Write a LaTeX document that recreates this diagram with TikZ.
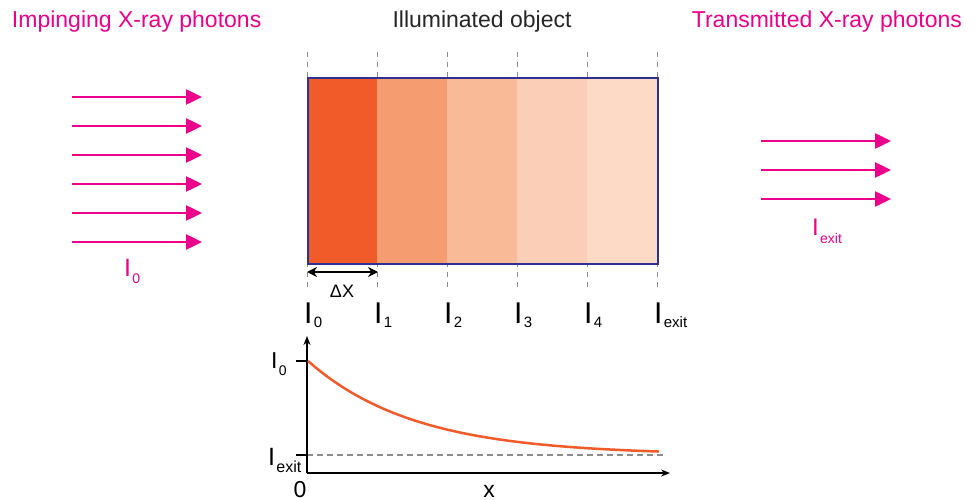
\documentclass[tikz,border=0pt]{standalone}
\usepackage{fontspec}
\setmainfont{Liberation Sans}
\usetikzlibrary{arrows.meta}
\definecolor{mag}{HTML}{EC008C}
\definecolor{orng}{HTML}{F15A29}
\definecolor{segA}{HTML}{F15A29}
\definecolor{segB}{HTML}{F69C71}
\definecolor{segC}{HTML}{F9BA98}
\definecolor{segD}{HTML}{FBCFB7}
\definecolor{segE}{HTML}{FCDAC6}
\definecolor{navy}{HTML}{2E3192}
\definecolor{dgray}{HTML}{8C8C8C}
\newcommand{\fs}[1]{\fontsize{#1}{#1}\selectfont}
% I with subscript: #1 big size, #2 small size, #3 drop, #4 subscript
\newcommand{\Isb}[4]{\fs{#1}I\kern1.5pt\raisebox{-#3pt}{\fs{#2}#4}}
\begin{document}
\begin{tikzpicture}[x=1pt,y=-1pt,
  lbl/.style={inner sep=0pt, outer sep=0pt},
  ray/.style={draw=mag, line width=2.5pt, -{Triangle[length=16pt,width=15pt]}},
  guide/.style={draw=dgray, line width=0.8pt, dash pattern=on 5pt off 5pt},
  axis/.style={draw=black, line width=1.8pt, -{Stealth[length=9pt,width=7pt]}}]
\useasboundingbox (0,0) rectangle (975,500);

% titles
\node[lbl, anchor=base west, text=mag] (t1) at (12,28) {\fs{23}Impinging X-ray photons};
\node[lbl, anchor=base, text=black!85] (t2) at (482,28) {\fs{23}Illuminated object};
\node[lbl, anchor=base east, text=mag] (t3) at (962,28) {\fs{23}Transmitted X-ray photons};

% guide lines
\foreach \k in {0,...,5} {
  \coordinate (gt\k) at ({307+70*\k},52);
  \coordinate (gb\k) at ({307+70*\k},290);
  \draw[guide] (gt\k) -- (gb\k);
}

% object segments
\fill[segA] (307,77) rectangle (377,263);
\fill[segB] (377,77) rectangle (447,263);
\fill[segC] (447,77) rectangle (517,263);
\fill[segD] (517,77) rectangle (587,263);
\fill[segE] (587,77) rectangle (657,263);
\node[draw=navy, line width=2pt, inner sep=0pt, minimum width=350pt, minimum height=186pt, anchor=north west] (obj) at (307,77) {};

% delta x
\coordinate (dxa) at (307,272);
\coordinate (dxb) at (378,272);
\draw[line width=1.8pt, {Stealth[length=10pt,width=10pt]}-{Stealth[length=10pt,width=10pt]}] (dxa) -- (dxb);
\node[lbl, anchor=base] (dx) at (342,297) {\fs{18}ΔX};

% I labels under the object
\node[lbl, anchor=base west] (l0) at (304,323) {\Isb{30}{15}{4}{0}};
\node[lbl, anchor=base west] (l1) at (374,323) {\Isb{30}{15}{4}{1}};
\node[lbl, anchor=base west] (l2) at (444,323) {\Isb{30}{15}{4}{2}};
\node[lbl, anchor=base west] (l3) at (514,323) {\Isb{30}{15}{4}{3}};
\node[lbl, anchor=base west] (l4) at (584,323) {\Isb{30}{15}{4}{4}};
\node[lbl, anchor=base west] (l5) at (654,323) {\Isb{30}{15}{4}{exit}};

% impinging rays
\foreach \i/\yy in {1/97,2/126,3/155,4/184,5/213,6/242} {
  \coordinate (ia\i) at (72,\yy);
  \coordinate (ib\i) at (202,\yy);
  \draw[ray] (ia\i) -- (ib\i);
}
\node[lbl, anchor=base west, text=mag] (iin) at (124,276) {\Isb{25}{14}{7}{0}};

% transmitted rays
\foreach \i/\yy in {1/141,2/170,3/199} {
  \coordinate (ta\i) at (761,\yy);
  \coordinate (tb\i) at (891,\yy);
  \draw[ray] (ta\i) -- (tb\i);
}
\node[lbl, anchor=base west, text=mag] (iout) at (812,235) {\Isb{24}{14}{8}{exit}};

% graph
\coordinate (O) at (307,473);
\coordinate (ytop) at (307,336);
\coordinate (xend) at (670,473);
\draw[line width=1.6pt, dash pattern=on 6pt off 4pt, draw=dgray] (307,455) -- (664,455);
\draw[axis] (O) -- (ytop);
\draw[axis] (O) -- (xend);
\coordinate (k0a) at (296,361); \coordinate (k0b) at (307,361);
\coordinate (k1a) at (296,455); \coordinate (k1b) at (307,455);
\draw[line width=1.6pt] (k0a) -- (k0b);
\draw[line width=1.6pt] (k1a) -- (k1b);
\draw[orng, line width=2.5pt] plot[domain=0:1, samples=80] ({308+351*\x}, {455-94*exp(-3.3*\x)});
\node[lbl, anchor=base west] (g0) at (271,368) {\Isb{23}{14}{7}{0}};
\node[lbl, anchor=base west] (ge) at (268,465) {\Isb{25}{16}{7}{exit}};
\node[lbl, anchor=base] (zero) at (300,497) {\fs{23}0};
\node[lbl, anchor=base] (xl) at (489,497) {\fs{23}x};
\end{tikzpicture}
\end{document}
